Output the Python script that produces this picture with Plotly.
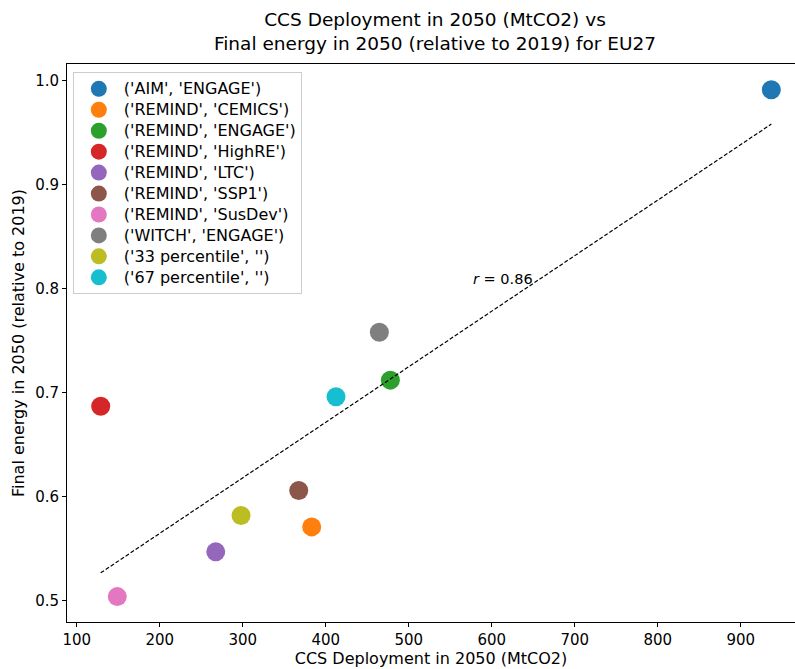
import numpy as np
import plotly.graph_objects as go

labels = ["('AIM', 'ENGAGE')", "('REMIND', 'CEMICS')", "('REMIND', 'ENGAGE')",
          "('REMIND', 'HighRE')", "('REMIND', 'LTC')", "('REMIND', 'SSP1')",
          "('REMIND', 'SusDev')", "('WITCH', 'ENGAGE')", "('33 percentile', '')",
          "('67 percentile', '')"]
ccs = [936.9, 383.1, 477.9, 128.9, 267.5, 367.5, 148.9, 464.6, 298.0, 412.4]
final_energy = [0.991, 0.571, 0.712, 0.687, 0.547, 0.606, 0.504, 0.758, 0.582, 0.696]
colors = ["#1f77b4", "#ff7f0e", "#2ca02c", "#d62728", "#9467bd",
          "#8c564b", "#e377c2", "#7f7f7f", "#bcbd22", "#17becf"]
x_ticks = [100, 200, 300, 400, 500, 600, 700, 800, 900]
y_ticks = [0.5, 0.6, 0.7, 0.8, 0.9, 1.0]

FONT = "DejaVu Sans"
fig = go.Figure()

for name, xv, yv, c in zip(labels, ccs, final_energy, colors):
    fig.add_trace(go.Scatter(x=[xv], y=[yv], mode="markers",
                             name=f'<span style="font-size:16px">{name}</span>',
                             marker=dict(size=19, color=c, line=dict(width=0))))

xa = np.array(ccs)
ya = np.array(final_energy)
slope, intercept = np.polyfit(xa, ya, 1)
r = np.corrcoef(xa, ya)[0, 1]
xl = np.array([xa.min(), xa.max()])
fig.add_trace(go.Scatter(x=xl, y=slope * xl + intercept, mode="lines",
                         line=dict(color="black", width=1.2, dash="4px,2px"),
                         showlegend=False, hoverinfo="skip"))

fig.add_annotation(x=575.5, y=0.809, xref="x", yref="y", xanchor="left", yanchor="middle",
                   text=f"<i>r</i> = {r:.2f}", showarrow=False,
                   font=dict(family=FONT, size=14.5, color="black"))

fig.update_layout(
    width=795, height=669,
    margin=dict(l=67, r=0, t=64, b=47),
    paper_bgcolor="white", plot_bgcolor="white",
    font=dict(family=FONT, size=15, color="black"),
    title=dict(text="CCS Deployment in 2050 (MtCO2) vs<br>Final energy in 2050 (relative to 2019) for EU27",
               x=0.5055, xref="paper", xanchor="center",
               y=1 - 26 / 669, yref="container", yanchor="middle",
               font=dict(family=FONT, size=18.5, color="black")),
    legend=dict(x=0.008, y=0.985, xanchor="left", yanchor="top", itemwidth=40,
                bgcolor="rgba(255,255,255,0.8)", bordercolor="#cccccc", borderwidth=1,
                font=dict(family=FONT, size=13.8, color="black")),
    showlegend=True,
)
fig.update_xaxes(range=[88.3, 965.4], tickvals=x_ticks, ticktext=[str(t) for t in x_ticks],
                 showgrid=False, zeroline=False, showline=True, linecolor="black", linewidth=1,
                 mirror=True, ticks="outside", ticklen=4, tickcolor="black",
                 tickfont=dict(family=FONT, size=15, color="black"),
                 title=dict(text="CCS Deployment in 2050 (MtCO2)", standoff=2,
                            font=dict(family=FONT, size=16, color="black")))
fig.update_yaxes(range=[0.4796, 1.0158], tickvals=y_ticks, ticktext=[f"{t:.1f}" for t in y_ticks],
                 showgrid=False, zeroline=False, showline=True, linecolor="black", linewidth=1,
                 ticks="outside", ticklen=4, tickcolor="black",
                 tickfont=dict(family=FONT, size=15, color="black"),
                 title=dict(text="Final energy in 2050 (relative to 2019)", standoff=6,
                            font=dict(family=FONT, size=16, color="black")))

fig.write_html("out.html")
